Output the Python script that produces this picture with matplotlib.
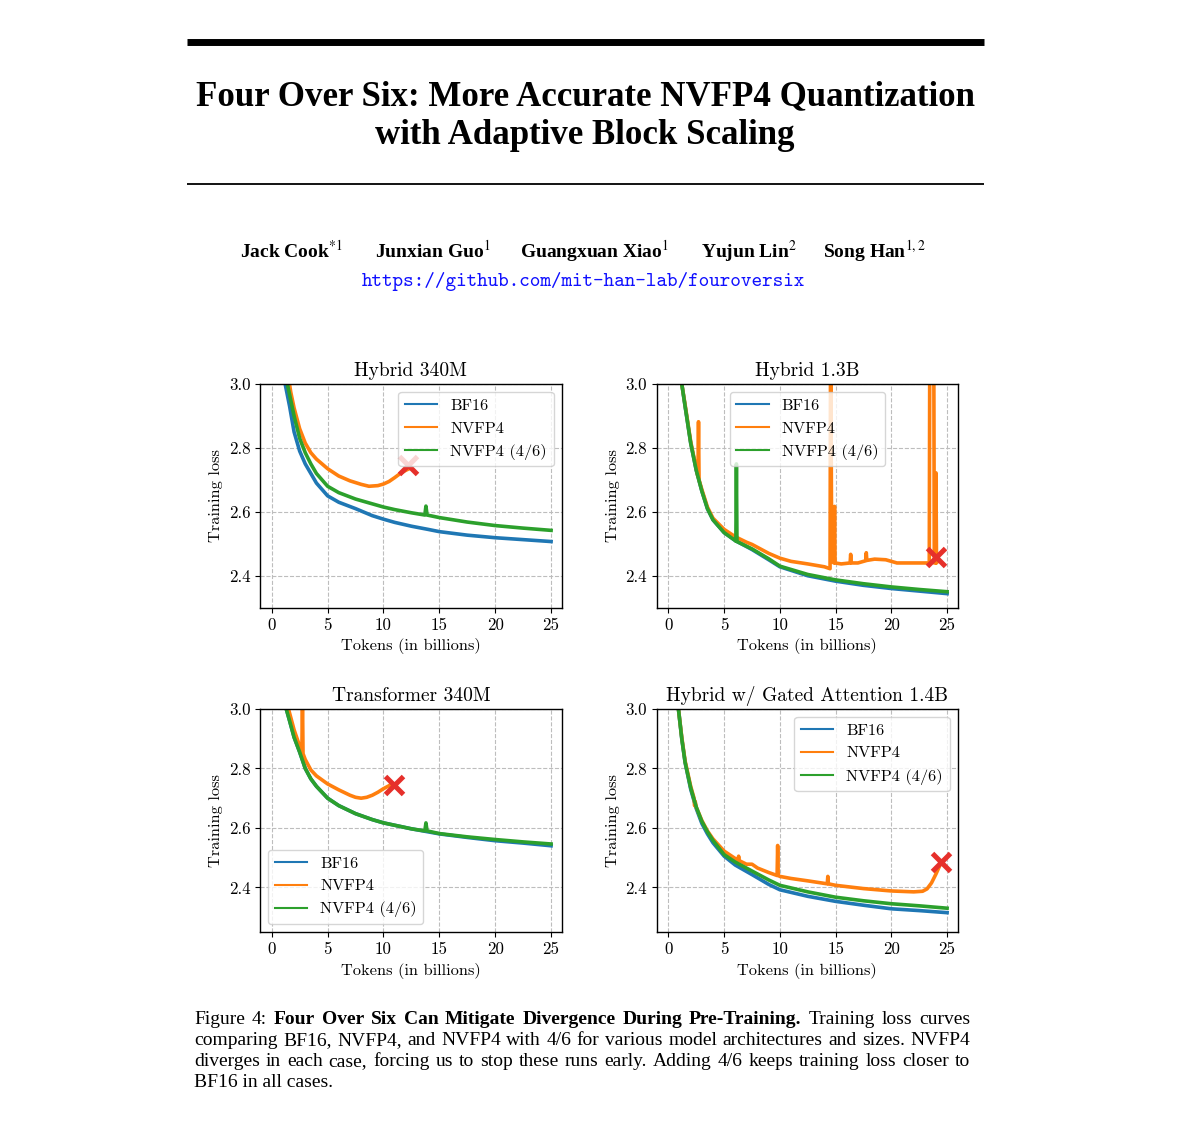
import numpy as np
import matplotlib
matplotlib.use('Agg')
import matplotlib.pyplot as plt

plt.rcParams['font.family'] = 'cmr10'
plt.rcParams['mathtext.fontset'] = 'cm'
plt.rcParams['axes.formatter.use_mathtext'] = False
plt.rcParams['axes.unicode_minus'] = False

SERIF = 'Liberation Serif'
LABELS = ['BF16', 'NVFP4', 'NVFP4 (4/6)']
COLORS = ['#1f77b4', '#ff7f0e', '#2ca02c']
CROSS_COLOR = '#e6302b'

# ---- Hybrid 340M ----
h340_bf16_x = [1.0, 1.2, 1.6, 2.0, 2.5, 3.0, 3.5, 4.0, 5.0, 6.0, 7.5, 9.0, 10.0, 11.0,
               12.5, 14.0, 15.0, 17.5, 20.0, 22.5, 25.0]
h340_bf16_y = [3.05, 3.0, 2.93, 2.85, 2.79, 2.75, 2.72, 2.69, 2.65, 2.63, 2.61, 2.588,
               2.577, 2.567, 2.555, 2.545, 2.538, 2.527, 2.519, 2.513, 2.507]
h340_nvfp4_x = [1.35, 1.5, 1.7, 2.0, 2.5, 3.0, 3.5, 4.0, 5.0, 6.0, 7.0, 8.0, 8.7, 9.5,
                10.0, 10.5, 11.0, 11.5, 12.0, 12.3]
h340_nvfp4_y = [3.05, 3.02, 2.975, 2.925, 2.86, 2.815, 2.785, 2.765, 2.735, 2.712, 2.697,
                2.686, 2.680, 2.682, 2.687, 2.695, 2.707, 2.72, 2.73, 2.735]
h340_46_x = [1.25, 1.4, 1.7, 2.0, 2.5, 3.0, 3.5, 4.0, 5.0, 6.0, 7.5, 9.0, 10.0, 11.0,
             12.5, 13.7, 13.8, 13.9, 15.0, 17.5, 20.0, 22.5, 25.0]
h340_46_y = [3.04, 3.0, 2.95, 2.90, 2.83, 2.785, 2.75, 2.72, 2.68, 2.66, 2.64, 2.625,
             2.615, 2.607, 2.597, 2.59, 2.618, 2.59, 2.582, 2.568, 2.557, 2.549, 2.542]
h340_cross = (12.2, 2.745)

# ---- Hybrid 1.3B ----
h13_bf16_x = [1.05, 1.2, 1.5, 2.0, 2.5, 3.0, 3.5, 4.0, 5.0, 6.0, 7.5, 9.0, 10.0, 12.5,
              15.0, 17.5, 20.0, 22.5, 25.0]
h13_bf16_y = [3.04, 3.0, 2.93, 2.815, 2.73, 2.665, 2.61, 2.575, 2.535, 2.51, 2.482, 2.45,
              2.428, 2.40, 2.383, 2.37, 2.36, 2.352, 2.344]
h13_nvfp4_x = [1.05, 1.2, 1.5, 2.0, 2.5, 2.65, 2.7, 2.75, 3.0, 3.5, 4.0, 5.0, 6.0, 7.0,
               7.5, 9.0, 10.0, 11.0, 12.5, 14.0, 14.5, 14.55, 14.65, 14.85, 14.9, 14.95,
               15.5, 16.3, 16.35, 16.4, 17.0, 17.7, 17.75, 17.8, 18.5, 19.5, 20.5, 22.0,
               23.4, 23.45, 23.8, 23.85, 23.95, 24.0, 24.05, 24.15]
h13_nvfp4_y = [3.04, 3.0, 2.935, 2.82, 2.735, 2.71, 2.882, 2.70, 2.67, 2.615, 2.58, 2.545,
               2.522, 2.505, 2.498, 2.47, 2.455, 2.445, 2.437, 2.428, 2.422, 3.2, 2.445,
               2.44, 2.617, 2.44, 2.437, 2.44, 2.467, 2.44, 2.44, 2.447, 2.472, 2.448,
               2.452, 2.45, 2.44, 2.44, 2.44, 3.2, 3.2, 2.44, 2.44, 2.722, 2.44, 2.445]
h13_46_x = [1.05, 1.2, 1.5, 2.0, 2.5, 3.0, 3.5, 4.0, 5.0, 6.0, 6.05, 6.1, 6.15, 7.5, 9.0,
            10.0, 12.5, 15.0, 17.5, 20.0, 22.5, 25.0]
h13_46_y = [3.04, 3.0, 2.93, 2.815, 2.73, 2.665, 2.61, 2.575, 2.535, 2.51, 2.508, 2.75,
            2.507, 2.484, 2.453, 2.43, 2.404, 2.387, 2.375, 2.365, 2.357, 2.35]
h13_cross = (24.02, 2.458)

# ---- Transformer 340M ----
t340_bf16_x = [1.1, 1.3, 1.6, 2.0, 2.5, 3.0, 3.5, 4.0, 5.0, 6.0, 7.5, 9.0, 10.0, 12.5,
               15.0, 17.5, 20.0, 22.5, 25.0]
t340_bf16_y = [3.03, 3.0, 2.96, 2.905, 2.855, 2.80, 2.765, 2.74, 2.70, 2.675, 2.648,
               2.628, 2.617, 2.597, 2.580, 2.568, 2.557, 2.549, 2.540]
t340_nvfp4_x = [1.3, 1.5, 2.0, 2.5, 2.7, 2.75, 2.8, 3.0, 3.5, 4.0, 5.0, 6.0, 7.0, 7.5,
                8.0, 8.5, 9.0, 9.5, 10.0, 10.5, 10.7]
t340_nvfp4_y = [3.03, 3.0, 2.93, 2.875, 2.86, 3.05, 2.85, 2.83, 2.795, 2.775, 2.748,
                2.728, 2.71, 2.703, 2.70, 2.703, 2.71, 2.72, 2.732, 2.742, 2.748]
t340_46_x = [1.1, 1.3, 1.6, 2.0, 2.5, 3.0, 3.5, 4.0, 5.0, 6.0, 7.5, 9.0, 10.0, 12.5, 13.7,
             13.8, 13.9, 15.0, 17.5, 20.0, 22.5, 25.0]
t340_46_y = [3.03, 3.0, 2.96, 2.905, 2.855, 2.80, 2.765, 2.74, 2.70, 2.675, 2.648, 2.628,
             2.617, 2.597, 2.59, 2.617, 2.59, 2.581, 2.57, 2.561, 2.553, 2.546]
t340_cross = (10.9, 2.745)

# ---- Hybrid w/ Gated Attention 1.4B ----
g14_bf16_x = [0.8, 0.9, 1.2, 1.5, 2.0, 2.5, 3.0, 3.5, 4.0, 5.0, 6.0, 7.5, 9.0, 10.0, 12.5,
              15.0, 17.5, 20.0, 22.5, 25.0]
g14_bf16_y = [3.04, 3.0, 2.90, 2.82, 2.73, 2.665, 2.615, 2.58, 2.55, 2.505, 2.475, 2.443,
              2.41, 2.392, 2.37, 2.353, 2.34, 2.328, 2.322, 2.315]
g14_nvfp4_x = [0.8, 0.9, 1.2, 1.5, 2.0, 2.3, 2.35, 2.4, 2.5, 3.0, 3.5, 4.0, 5.0, 6.0,
               6.25, 6.3, 6.35, 7.0, 7.5, 8.0, 9.0, 9.75, 9.8, 9.85, 10.0, 11.0, 12.5,
               14.25, 14.3, 14.35, 15.0, 17.5, 20.0, 22.0, 22.8, 23.2, 23.6, 24.0, 24.3]
g14_nvfp4_y = [3.04, 3.0, 2.905, 2.825, 2.74, 2.70, 2.675, 2.69, 2.67, 2.625, 2.59,
               2.563, 2.522, 2.497, 2.49, 2.505, 2.49, 2.478, 2.478, 2.465, 2.45, 2.44,
               2.541, 2.44, 2.437, 2.43, 2.422, 2.412, 2.437, 2.412, 2.407, 2.396,
               2.388, 2.385, 2.387, 2.395, 2.415, 2.445, 2.47]
g14_46_x = [0.8, 0.9, 1.2, 1.5, 2.0, 2.5, 3.0, 3.5, 4.0, 5.0, 6.0, 7.5, 9.0, 10.0, 12.5,
            15.0, 17.5, 20.0, 22.5, 25.0]
g14_46_y = [3.04, 3.0, 2.90, 2.82, 2.735, 2.67, 2.622, 2.587, 2.558, 2.51, 2.485, 2.455,
            2.425, 2.407, 2.385, 2.367, 2.355, 2.345, 2.338, 2.33]
g14_cross = (24.42, 2.485)

TITLE_LINES = ['Four Over Six: More Accurate NVFP4 Quantization',
               'with Adaptive Block Scaling']
AUTHORS = ['Jack Cook$^{*1}$', 'Junxian Guo$^{1}$', 'Guangxuan Xiao$^{1}$',
           'Yujun Lin$^{2}$', 'Song Han$^{1,2}$']
URL = 'https://github.com/mit-han-lab/fouroversix'
CAPTION = [
    [('Figure', 'normal'), ('4:', 'normal'), ('Four', 'bold'), ('Over', 'bold'),
     ('Six', 'bold'), ('Can', 'bold'), ('Mitigate', 'bold'), ('Divergence', 'bold'),
     ('During', 'bold'), ('Pre-Training.', 'bold'), ('Training', 'normal'),
     ('loss', 'normal'), ('curves', 'normal')],
    [(w, 'normal') for w in 'comparing BF16, NVFP4, and NVFP4 with 4/6 for various '
     'model architectures and sizes. NVFP4'.split()],
    [(w, 'normal') for w in 'diverges in each case, forcing us to stop these runs '
     'early. Adding 4/6 keeps training loss closer to'.split()],
]
CAPTION_LAST = 'BF16 in all cases.'


def DrawPanel(ax, title, series, cross, ylim, legendLoc):
    for (x, y), label, color in zip(series, LABELS, COLORS):
        ax.plot(x, y, color=color, lw=2.6, label=label)
    ax.plot(*cross, marker='x', color=CROSS_COLOR, markersize=13, mew=3.6, ls='none')
    ax.set_xlim(-1.05, 25.95)
    ax.set_ylim(*ylim)
    ax.set_xticks([0, 5, 10, 15, 20, 25])
    ax.set_yticks([2.4, 2.6, 2.8, 3.0])
    ax.set_yticklabels(['2.4', '2.6', '2.8', '3.0'])
    ax.grid(True, linestyle='--', color='#bdbdbd', linewidth=0.8)
    ax.tick_params(labelsize=12.2)
    for s in ax.spines.values():
        s.set_linewidth(1.0)
    ax.set_title(title, fontsize=14)
    ax.set_xlabel('Tokens (in billions)', fontsize=11.8)
    ax.set_ylabel('Training loss', fontsize=11.8)
    leg = ax.legend(loc=legendLoc, fontsize=11.7)
    for h in leg.get_lines():
        h.set_linewidth(1.5)


def DrawJustifiedLine(page, renderer, words, xLeft, xRight, y, size):
    arts = [page.text(0, y, w, family=SERIF, fontsize=size, fontweight=wt,
                      ha='left', va='baseline') for w, wt in words]
    widths = [t.get_window_extent(renderer).width for t in arts]
    gap = (xRight - xLeft - sum(widths)) / (len(arts) - 1)
    x = xLeft
    for t, w in zip(arts, widths):
        t.set_x(x)
        x += w + gap


fig = plt.figure(figsize=(12, 11.46), dpi=100)
page = fig.add_axes([0, 0, 1, 1])
page.set_xlim(0, 1200)
page.set_ylim(1146, 0)
page.axis('off')

page.plot([187, 984], [41.5, 41.5], color='black', lw=5.0, solid_capstyle='butt')
page.plot([187, 984], [184, 184], color='black', lw=1.3, solid_capstyle='butt')
page.text(585, 105, TITLE_LINES[0], family=SERIF, fontweight='bold', fontsize=25.1,
          ha='center', va='baseline')
page.text(585, 144, TITLE_LINES[1], family=SERIF, fontweight='bold', fontsize=25.1,
          ha='center', va='baseline')
for name, xLeft in zip(AUTHORS, [240, 375, 520, 701, 823]):
    page.text(xLeft, 258, name, family=SERIF, fontweight='bold', fontsize=14,
              math_fontfamily='stix', ha='left', va='baseline')
page.text(584, 286, URL, family='cmtt10', fontsize=14.5, color='#1010ff',
          ha='center', va='baseline')

colX = [0.21667, 0.54725]
colW = [0.25142, 0.25083]
rowY = [0.46972, 0.18674]
rowH = [0.19520, 0.19459]

axTL = fig.add_axes([colX[0], rowY[0], colW[0], rowH[0]])
axTR = fig.add_axes([colX[1], rowY[0], colW[1], rowH[0]])
axBL = fig.add_axes([colX[0], rowY[1], colW[0], rowH[1]])
axBR = fig.add_axes([colX[1], rowY[1], colW[1], rowH[1]])

DrawPanel(axTL, 'Hybrid 340M',
          [(h340_bf16_x, h340_bf16_y), (h340_nvfp4_x, h340_nvfp4_y), (h340_46_x, h340_46_y)],
          h340_cross, (2.3, 3.0), 'upper right')
DrawPanel(axTR, 'Hybrid 1.3B',
          [(h13_bf16_x, h13_bf16_y), (h13_nvfp4_x, h13_nvfp4_y), (h13_46_x, h13_46_y)],
          h13_cross, (2.3, 3.0), 'upper center')
DrawPanel(axBL, 'Transformer 340M',
          [(t340_bf16_x, t340_bf16_y), (t340_nvfp4_x, t340_nvfp4_y), (t340_46_x, t340_46_y)],
          t340_cross, (2.25, 3.0), 'lower left')
DrawPanel(axBR, 'Hybrid w/ Gated Attention 1.4B',
          [(g14_bf16_x, g14_bf16_y), (g14_nvfp4_x, g14_nvfp4_y), (g14_46_x, g14_46_y)],
          g14_cross, (2.25, 3.0), 'upper right')

renderer = fig.canvas.get_renderer()
for i, words in enumerate(CAPTION):
    DrawJustifiedLine(page, renderer, words, 194, 970, 1024 + 21 * i, 14)
page.text(194, 1024 + 21 * 3, CAPTION_LAST, family=SERIF, fontsize=14,
          ha='left', va='baseline')

fig.savefig('out.png', dpi=100, facecolor='white')
